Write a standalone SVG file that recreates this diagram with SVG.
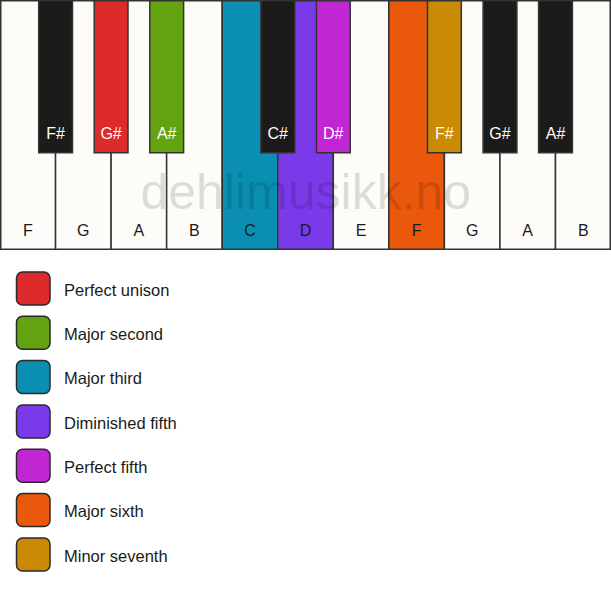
<svg xmlns="http://www.w3.org/2000/svg" width="611" height="594" viewBox="0 0 611 594">
<style>
.w{fill:#fdfcf9;stroke:#333;stroke-width:1.5}
.b{stroke:#333;stroke-width:1.5}
.wl{font-family:"Liberation Sans",Arial,sans-serif;font-size:16px;fill:#1a1a1a;text-anchor:middle}
.bl{font-family:"Liberation Sans",Arial,sans-serif;font-size:16px;fill:#ffffff;text-anchor:middle}
.sw{stroke:#2a2a2a;stroke-width:1.5}
.lt{font-family:"Liberation Sans",Arial,sans-serif;font-size:16.5px;fill:#1a1a1a}
.wm{font-family:"Liberation Sans",Arial,sans-serif;font-size:50px;fill:#000;fill-opacity:0.13;text-anchor:middle}
</style>
<rect x="0" y="0" width="611" height="594" fill="#ffffff"/>
<g id="white-keys">
<rect class="w" x="0.75" y="0.75" width="54.8" height="248.5"/>
<rect class="w" x="55.55" y="0.75" width="55.55" height="248.5"/>
<rect class="w" x="111.1" y="0.75" width="55.55" height="248.5"/>
<rect class="w" x="166.65" y="0.75" width="55.55" height="248.5"/>
<rect class="w" x="222.2" y="0.75" width="55.55" height="248.5" style="fill:#0a8fb3"/>
<rect class="w" x="277.75" y="0.75" width="55.55" height="248.5" style="fill:#7b3aea"/>
<rect class="w" x="333.3" y="0.75" width="55.55" height="248.5"/>
<rect class="w" x="388.85" y="0.75" width="55.55" height="248.5" style="fill:#ea580c"/>
<rect class="w" x="444.4" y="0.75" width="55.55" height="248.5"/>
<rect class="w" x="499.95" y="0.75" width="55.55" height="248.5"/>
<rect class="w" x="555.5" y="0.75" width="54.75" height="248.5"/>
<text class="wl" x="27.8" y="235.7">F</text>
<text class="wl" x="83.3" y="235.7">G</text>
<text class="wl" x="138.9" y="235.7">A</text>
<text class="wl" x="194.4" y="235.7">B</text>
<text class="wl" x="250" y="235.7">C</text>
<text class="wl" x="305.5" y="235.7">D</text>
<text class="wl" x="361.1" y="235.7">E</text>
<text class="wl" x="416.6" y="235.7">F</text>
<text class="wl" x="472.2" y="235.7">G</text>
<text class="wl" x="527.7" y="235.7">A</text>
<text class="wl" x="583.3" y="235.7">B</text>
</g>
<text id="watermark" class="wm" x="305.8" y="208.5">dehlimusikk.no</text>
<g id="black-keys">
<rect class="b" x="38.7" y="0.75" width="33.8" height="152" fill="#1c1b1a"/>
<rect class="b" x="94.2" y="0.75" width="33.8" height="152" fill="#dd2a2a"/>
<rect class="b" x="149.8" y="0.75" width="33.8" height="152" fill="#62a30f"/>
<rect class="b" x="260.9" y="0.75" width="33.8" height="152" fill="#1c1b1a"/>
<rect class="b" x="316.4" y="0.75" width="33.8" height="152" fill="#c026d3"/>
<rect class="b" x="427.5" y="0.75" width="33.8" height="152" fill="#ca8a04"/>
<rect class="b" x="483.1" y="0.75" width="33.8" height="152" fill="#1c1b1a"/>
<rect class="b" x="538.6" y="0.75" width="33.8" height="152" fill="#1c1b1a"/>
<text class="bl" x="55.6" y="138.5">F#</text>
<text class="bl" x="111.1" y="138.5">G#</text>
<text class="bl" x="166.7" y="138.5">A#</text>
<text class="bl" x="277.8" y="138.5">C#</text>
<text class="bl" x="333.3" y="138.5">D#</text>
<text class="bl" x="444.4" y="138.5">F#</text>
<text class="bl" x="500" y="138.5">G#</text>
<text class="bl" x="555.5" y="138.5">A#</text>
</g>
<g id="legend">
<g id="legend-unison"><rect class="sw" x="16.5" y="272" width="33.5" height="33" rx="6" fill="#dd2a2a"/><text class="lt" x="64" y="295.5">Perfect unison</text></g>
<g id="legend-second"><rect class="sw" x="16.5" y="316.3" width="33.5" height="33" rx="6" fill="#62a30f"/><text class="lt" x="64" y="339.8">Major second</text></g>
<g id="legend-third"><rect class="sw" x="16.5" y="360.6" width="33.5" height="33" rx="6" fill="#0a8fb3"/><text class="lt" x="64" y="384.1">Major third</text></g>
<g id="legend-dim5"><rect class="sw" x="16.5" y="405" width="33.5" height="33" rx="6" fill="#7b3aea"/><text class="lt" x="64" y="428.5">Diminished fifth</text></g>
<g id="legend-fifth"><rect class="sw" x="16.5" y="449.3" width="33.5" height="33" rx="6" fill="#c026d3"/><text class="lt" x="64" y="472.8">Perfect fifth</text></g>
<g id="legend-sixth"><rect class="sw" x="16.5" y="493.6" width="33.5" height="33" rx="6" fill="#ea580c"/><text class="lt" x="64" y="517.1">Major sixth</text></g>
<g id="legend-seventh"><rect class="sw" x="16.5" y="538" width="33.5" height="33" rx="6" fill="#ca8a04"/><text class="lt" x="64" y="561.5">Minor seventh</text></g>
</g>
</svg>
